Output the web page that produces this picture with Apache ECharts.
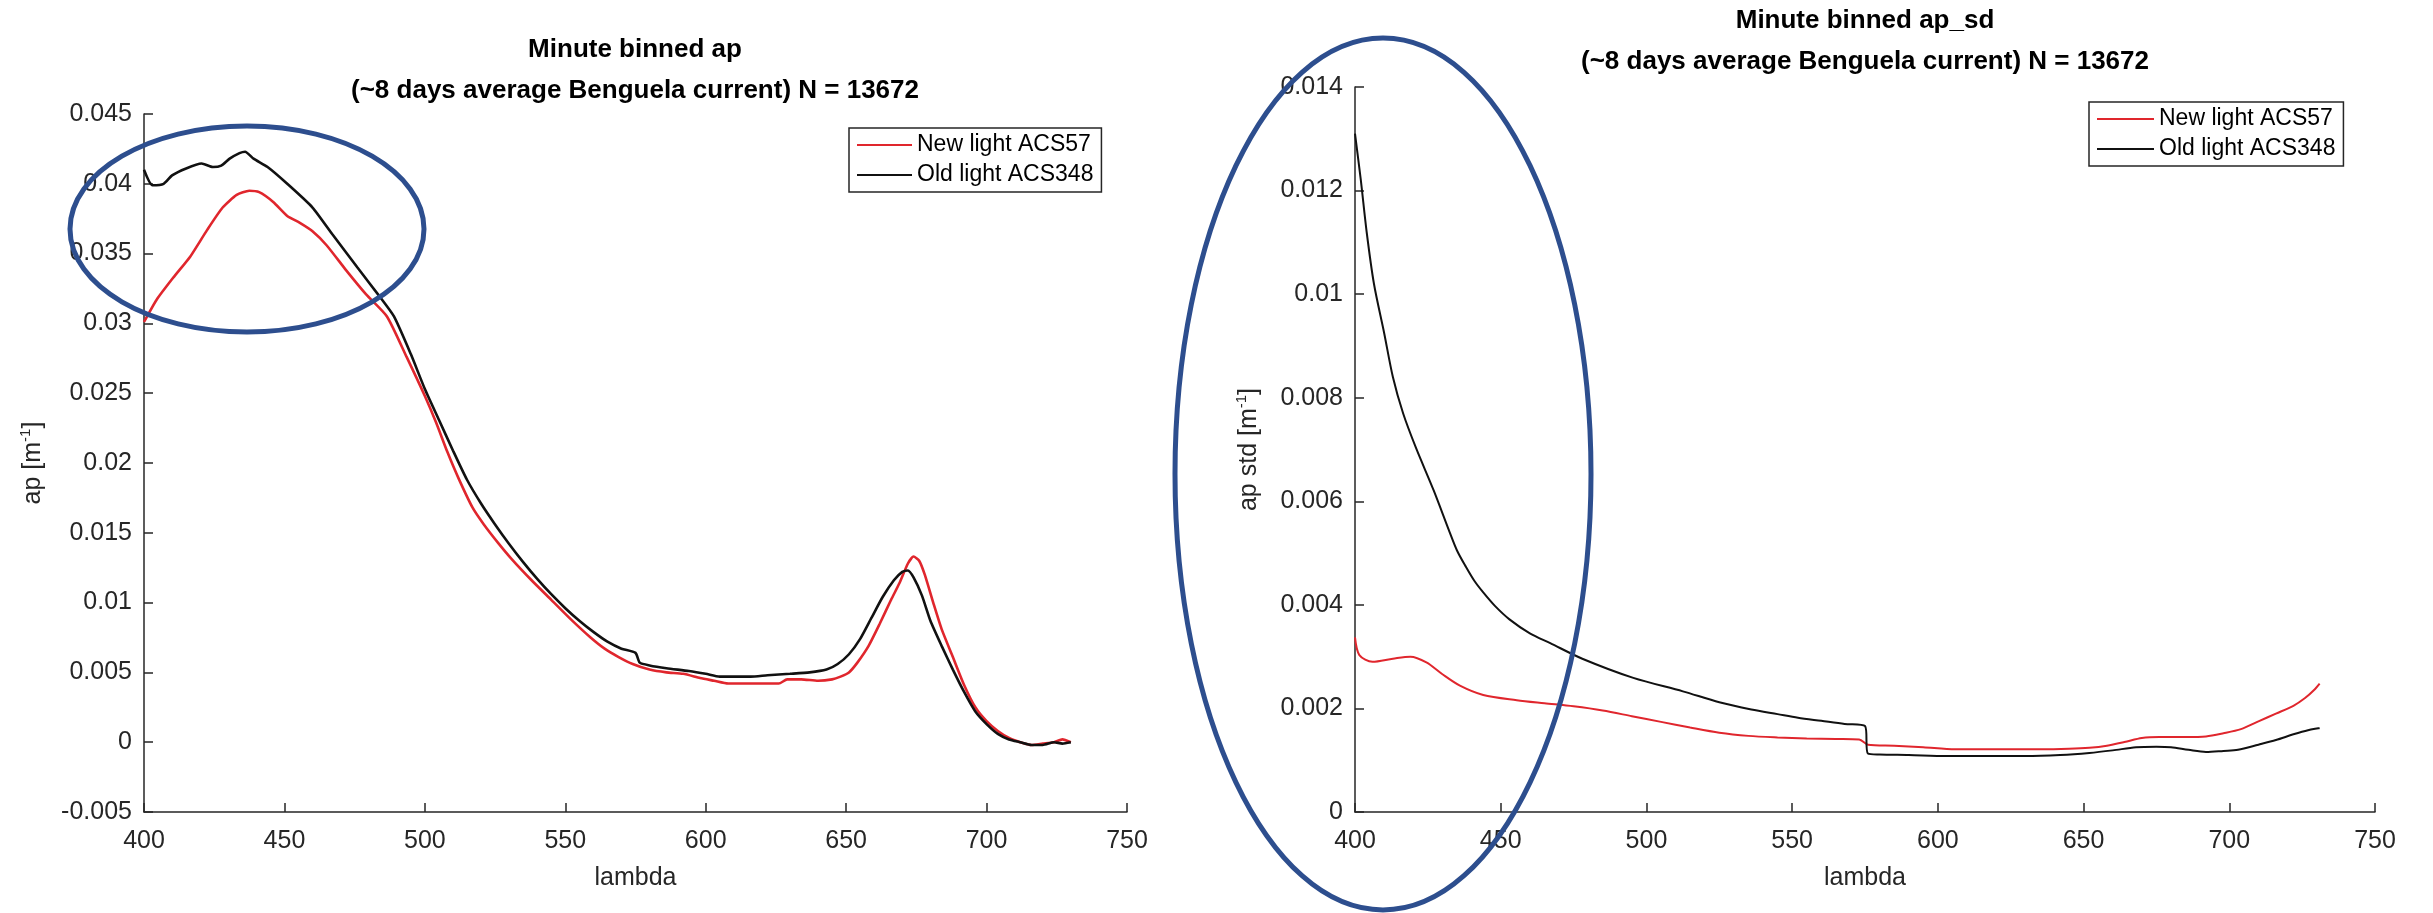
<!DOCTYPE html>
<html>
<head>
<meta charset="utf-8">
<script src="https://cdn.jsdelivr.net/npm/echarts@6/dist/echarts.min.js"></script>
<style>
html,body{margin:0;padding:0;background:#fff;}
#c{width:2433px;height:913px;}
</style>
</head>
<body>
<div id="c"></div>
<script>
// ---------- data ----------
var seriesNames = ['New light ACS57', 'Old light ACS348'];
var xTicks = [400, 450, 500, 550, 600, 650, 700, 750];
var yTicksAp = [-0.005, 0, 0.005, 0.01, 0.015, 0.02, 0.025, 0.03, 0.035, 0.04, 0.045];
var yTicksSd = [0, 0.002, 0.004, 0.006, 0.008, 0.01, 0.012, 0.014];

// Left panel: ap
var apNewLambda = [400,404.5,410.5,416.5,422.5,428,433,437.5,441,446,451,455.5,460,465,472,479,486.5,493.5,500,504,508,512,517,521,526,531,538,545,552,559,564,569,574,580,586,592,598,603,608,615,621,626,629,634,640,645,648,651,654,658,662,666,669,672,674,676,678,681,684,688,692,696,700,704,708,712,716,720,724,727,730];
var apNewValue  = [0.0301,0.0317,0.0333,0.0348,0.0367,0.0383,0.0392,0.0395,0.0394,0.0387,0.0377,0.0372,0.0366,0.0356,0.0338,0.0321,0.0305,0.0276,0.0248,0.0229,0.0208,0.0189,0.0168,0.0156,0.0143,0.0131,0.0116,0.0102,0.0088,0.0075,0.0067,0.0061,0.0056,0.0052,0.0050,0.0049,0.0046,0.0044,0.0042,0.0042,0.0042,0.0042,0.0045,0.0045,0.0044,0.0045,0.0047,0.0050,0.0057,0.0069,0.0085,0.0102,0.0114,0.0128,0.0133,0.0130,0.0120,0.0100,0.0081,0.0061,0.0041,0.0025,0.0015,0.0008,0.0003,0.0000,-0.0002,-0.0001,0.0000,0.0002,0.0000];
var apOldLambda = [400,403,407,410,415,420.5,424.5,427.5,430.5,434,436,439,444,451,460,467,476,484,489,495,500,505,510,515,520,525,530,535,540,545,550,555,560,565,570,575,576.5,580,586,594,600,605,610,616,622,630,637,643,647,651,655,659,663,667,670,672,674,677,680,684,688,692,696,700,704,708,712,716,720,724,727,730];
var apOldValue  = [0.0410,0.0399,0.0400,0.0406,0.0411,0.04145,0.0412,0.0413,0.0418,0.0422,0.0423,0.0418,0.0412,0.0400,0.0383,0.0364,0.0340,0.0319,0.0305,0.0278,0.0253,0.0231,0.0209,0.0188,0.0171,0.0156,0.0142,0.0129,0.0117,0.0106,0.0096,0.0087,0.0079,0.0072,0.0067,0.0064,0.0057,0.0055,0.0053,0.0051,0.0049,0.0047,0.0047,0.0047,0.0048,0.0049,0.0050,0.0052,0.0056,0.0063,0.0074,0.0089,0.0104,0.0116,0.0122,0.0123,0.0118,0.0105,0.0087,0.0069,0.0052,0.0036,0.0022,0.0013,0.0006,0.0002,0.0000,-0.0002,-0.0002,0.0000,-0.0001,0.0000];

// Right panel: ap std
var sdNewLambda = [400,401.5,406,413,419,424.5,430,436,444,455.5,465,475,485,495,505,515,525,535,545,555,565,573,576,585,595,606,620,635,645,652,658,664,670,676,685,692,698,704,710,716,722,726,729,731];
var sdNewValue  = [0.00337,0.00303,0.0029,0.00296,0.0030,0.00289,0.00266,0.00244,0.00226,0.00216,0.0021,0.00204,0.00196,0.00185,0.00174,0.00163,0.00153,0.00147,0.00144,0.00142,0.00141,0.0014,0.0013,0.00128,0.00125,0.00121,0.00121,0.00121,0.00122,0.00124,0.00128,0.00135,0.00143,0.00145,0.00145,0.00146,0.00152,0.0016,0.00175,0.0019,0.00205,0.0022,0.00235,0.00248];
var sdOldLambda = [400,402,404,406.5,410,413,416.5,421,427,432.5,435,438,441,444,448,453,460,467,478,495.5,512.5,525,536,545,552,560,568,575,576,580,590,603,615,630,642,652,660,668,675,680,686,692,698,703,710,716,722,727,731];
var sdOldValue  = [0.0131,0.0122,0.0112,0.0102,0.00925,0.0084,0.0077,0.00702,0.00621,0.0054,0.00505,0.00474,0.00446,0.00424,0.00398,0.00372,0.00345,0.00326,0.00296,0.00259,0.00233,0.00212,0.00198,0.00189,0.00182,0.00176,0.0017,0.00166,0.00113,0.00111,0.0011,0.00108,0.00108,0.00108,0.0011,0.00114,0.00119,0.00125,0.00126,0.00125,0.0012,0.00116,0.00118,0.0012,0.0013,0.00139,0.0015,0.00158,0.00162];

// ---------- helpers ----------
function zip(xs, ys) { return xs.map(function (x, i) { return [x, ys[i]]; }); }
function fmt(v) { return String(+v.toFixed(4)); }

var FONT = "'Liberation Sans', Arial, Helvetica, sans-serif";
var AX = '#262626';
var RED = '#e0262d';
var BLACK = '#111111';

function xAxisCfg(gi) {
  return {
    type: 'value', gridIndex: gi,
    min: xTicks[0], max: xTicks[xTicks.length - 1], interval: xTicks[1] - xTicks[0],
    axisLine: { onZero: false, lineStyle: { color: AX, width: 1.5 } },
    axisTick: { inside: true, length: 9, lineStyle: { color: AX, width: 1.5 } },
    axisLabel: { fontSize: 25, color: AX, margin: 17, fontFamily: FONT },
    splitLine: { show: false },
    name: 'lambda', nameLocation: 'middle', nameGap: 54,
    nameTextStyle: { fontSize: 25, color: AX, fontFamily: FONT }
  };
}
function yAxisCfg(gi, ticks, name, gap) {
  return {
    type: 'value', gridIndex: gi,
    min: ticks[0], max: ticks[ticks.length - 1], interval: +(ticks[1] - ticks[0]).toFixed(6),
    axisLine: { show: true, onZero: false, lineStyle: { color: AX, width: 1.5 } },
    axisTick: { show: true, inside: true, length: 9, lineStyle: { color: AX, width: 1.5 } },
    axisLabel: { fontSize: 25, color: AX, margin: 12, fontFamily: FONT, formatter: fmt },
    splitLine: { show: false },
    name: name, nameLocation: 'middle', nameGap: gap, nameRotate: 90,
    nameTextStyle: {
      fontSize: 25, color: AX, fontFamily: FONT, lineHeight: 30,
      rich: { sup: { fontSize: 15, color: AX, fontFamily: FONT, verticalAlign: 'top', lineHeight: 30 } }
    }
  };
}
function lineSeries(name, xi, yi, data, color, width, smooth) {
  return {
    type: 'line', name: name, xAxisIndex: xi, yAxisIndex: yi,
    data: data, showSymbol: false, symbol: 'none', smooth: smooth,
    lineStyle: { color: color, width: width }, itemStyle: { color: color },
    z: name === seriesNames[0] ? 3 : 4
  };
}
function legendCfg(left, top, itemW) {
  return {
    left: left, top: top, orient: 'vertical', data: seriesNames,
    icon: 'rect', itemWidth: itemW, itemHeight: 2, itemGap: 2, itemTextGap: 6,
    padding: [3, 8, 3, 8], borderColor: AX, borderWidth: 1.5, backgroundColor: '#fff',
    textStyle: { fontSize: 23, lineHeight: 28, color: '#000', fontFamily: FONT }
  };
}

var titleStyle = { fontSize: 26, fontWeight: 'bold', color: '#000', fontFamily: FONT, lineHeight: 41 };

var option = {
  animation: false,
  backgroundColor: '#ffffff',
  title: [
    { text: 'Minute binned ap\n(~8 days average Benguela current) N = 13672', left: 635, top: 29, textAlign: 'center', textStyle: titleStyle, padding: 0 },
    { text: 'Minute binned ap_sd\n(~8 days average Benguela current) N = 13672', left: 1865, top: 0, textAlign: 'center', textStyle: titleStyle, padding: 0 }
  ],
  legend: [legendCfg(849, 128, 55), legendCfg(2089, 102, 57)],
  grid: [
    { left: 144, top: 114, width: 983, height: 698, containLabel: false },
    { left: 1355, top: 87, width: 1020, height: 725, containLabel: false }
  ],
  xAxis: [xAxisCfg(0), xAxisCfg(1)],
  yAxis: [
    yAxisCfg(0, yTicksAp, 'ap [m{sup|-1}]', 96),
    yAxisCfg(1, yTicksSd, 'ap std [m{sup|-1}]', 91)
  ],
  series: [
    lineSeries(seriesNames[0], 0, 0, zip(apNewLambda, apNewValue), RED, 2.6, 0.2),
    lineSeries(seriesNames[1], 0, 0, zip(apOldLambda, apOldValue), BLACK, 2.6, 0.2),
    lineSeries(seriesNames[0], 1, 1, zip(sdNewLambda, sdNewValue), RED, 2, 0.3),
    lineSeries(seriesNames[1], 1, 1, zip(sdOldLambda, sdOldValue), BLACK, 2, 0.3)
  ],
  graphic: [
    { type: 'ellipse', shape: { cx: 247, cy: 229, rx: 177, ry: 103 }, style: { fill: null, stroke: '#2d4e8e', lineWidth: 5 }, z: 100 },
    { type: 'ellipse', shape: { cx: 1383, cy: 474, rx: 208, ry: 436 }, style: { fill: null, stroke: '#2d4e8e', lineWidth: 5 }, z: 100 }
  ]
};

var chart = echarts.init(document.getElementById('c'), null, { renderer: 'canvas' });
chart.setOption(option);
</script>
</body>
</html>
